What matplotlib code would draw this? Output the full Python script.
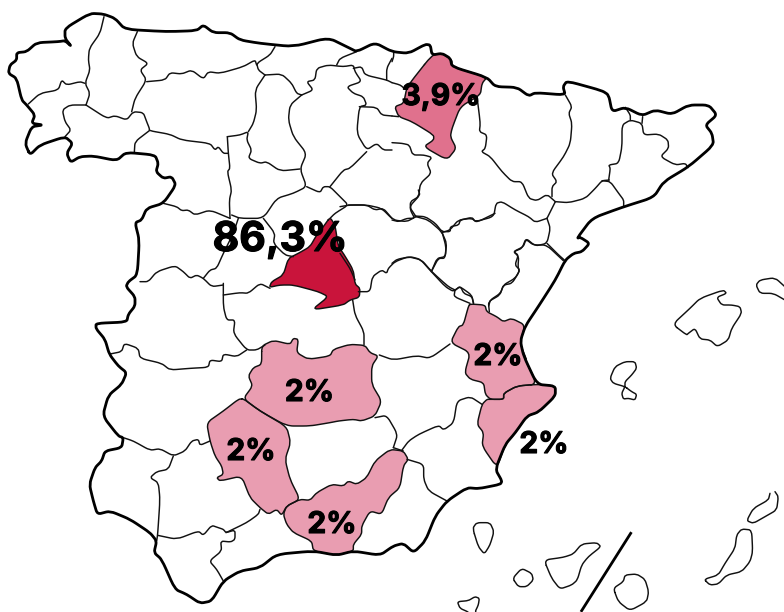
import matplotlib
matplotlib.use("Agg")
import matplotlib.pyplot as plt
import matplotlib.patheffects as pe
from matplotlib.path import Path
from matplotlib.patches import PathPatch

plt.rcParams['font.family'] = ['Inter', 'DejaVu Sans']

# Crop frames the outlines were read in: (left, top); every crop is scaled 3x
F1 = (0, 0); F2 = (392, 0); F3 = (60, 306); F4 = (392, 306)
F5 = (260, 210); F6 = (340, 190); F7 = (600, 265); F8 = (90, 270); F10 = (440, 480)

def P(frame, pts):
    return [(frame[0] + x / 3, frame[1] + y / 3) for x, y in pts]

# ---------- values ----------
labels = ["86,3%", "3,9%", "2%", "2%", "2%", "2%", "2%"]
label_xy = [(280, 240), (441, 97), (309.5, 393), (251, 452), (332, 525), (498, 357), (544, 445)]
label_size = [29.5, 21.5, 21.5, 21.5, 21.5, 21.5, 21.5]

madrid = P(F5, [(210,22),(225,45),(235,110),(250,130),(280,180),(285,222),(300,235),(298,262),(270,270),(250,285),(155,300),(205,260),(175,245),(100,225),(60,225),(28,232),(35,215),(70,195),(85,145),(115,130),(150,110),(170,75),(190,50),(210,22)])
navarra = P(F2, [(120,165),(150,160),(180,180),(180,200),(285,232),(270,250),(265,285),(205,320),(180,385),(175,410),(193,445),(165,480),(95,440),(125,420),(125,405),(60,365),(20,350),(8,320),(35,310),(45,260),(120,165)])
ciudad_real = P(F3, [(605,120),(640,103),(690,115),(700,97),(715,100),(710,140),(745,160),(810,150),(820,130),(870,115),(915,118),(930,140),(955,150),(935,180),(935,235),(965,285),(945,330),(905,345),(880,340),(835,345),(810,350),(750,360),(680,360),(600,315),(550,278),(578,240),(565,210),(580,185),(605,175),(605,120)])
cordoba = P(F3, [(550,278),(600,315),(680,362),(692,410),(675,460),(690,520),(720,580),(680,600),(665,628),(650,610),(625,625),(600,605),(570,575),(545,510),(480,525),(470,515),(490,505),(485,480),(465,450),(450,405),(440,350),(490,315),(535,280),(550,278)])
granada = P(F3, [(720,580),(750,583),(770,560),(815,535),(850,540),(865,525),(890,535),(920,515),(945,465),(990,430),(1030,435),(1045,460),(1030,480),(1020,545),(985,575),(965,625),(930,615),(905,660),(905,685),(880,715),(880,735),(830,748),(760,735),(755,705),(700,680),(680,655),(670,625),(680,600),(720,580)])
valencia = P(F6, [(390,342),(435,345),(440,365),(470,380),(490,395),(515,385),(555,405),(540,460),(560,510)]) + P(F4, [(395,150),(435,235),(375,240),(335,262),(335,280),(295,280),(280,265),(275,230),(235,220),(218,200),(235,140),(175,110)]) + P(F6, [(355,410),(370,405),(385,350),(390,342)])
alicante = P(F4, [(435,235),(490,240),(490,270),(440,318),(405,330),(370,380),(340,415),(315,485),(270,420),(275,380),(255,355),(270,295),(285,280),(295,280),(335,280),(335,262),(375,240),(435,235)])

coast = (
    P(F1, [(90,465),(120,435),(195,410),(218,430),(200,460),(212,487),(240,470),(280,468),(350,482),(378,457),(465,465),(475,490),(468,515),(490,535),(515,530),(528,555),(490,610),(440,625),(425,660),(405,668),(418,720),(412,825),(385,845),(378,860),(405,890)])
    + P(F3, [(225,0),(205,25),(200,48),(108,52),(108,68),(135,100),(148,145),(175,180),(200,200),(185,235),(145,268),(128,330),(175,390),(190,395),(185,425),(135,435),(125,465),(105,485),(88,535),(100,585),(112,625),(150,615),(210,640),(270,680),(290,705),(282,740),(305,760),(345,850),(380,865),(420,892),(455,885),(490,825),(540,795),(600,785),(650,745),(760,735),(830,748),(880,735),(960,748),(1000,720),(1030,712)])
    + P(F4, [(65,740),(100,705),(130,630),(165,585),(225,545),(260,548),(325,535),(330,525),(310,490),(340,415),(370,380),(405,330),(440,318),(490,270),(490,240),(435,235),(395,150),(385,105),(400,60),(440,0)])
    + P(F2, [(490,840),(520,780),(545,760),(570,755),(593,730),(565,712),(555,715),(600,655),(690,622),(785,592),(815,545),(890,500),(965,435),(960,400),(940,375),(975,345),(950,315),(890,315),(840,343),(790,330),(750,347),(700,322),(660,335),(650,285),(630,272),(525,243),(513,260),(520,285),(430,278),(410,288),(375,262),(310,260),(285,232),(180,200),(175,175),(150,160),(120,165),(115,135),(100,133),(50,160),(0,155)])
    + P(F1, [(1125,128),(1070,155),(1050,145),(985,113),(880,140),(780,130),(720,120),(690,98),(640,98),(610,75),(590,92),(500,95),(375,88),(345,55),(310,42),(270,40),(195,85),(195,115),(215,140),(195,122),(175,125),(110,128),(80,155),(50,158),(50,180),(30,195),(25,220),(50,235),(65,300),(80,315),(105,345),(95,370),(130,375),(95,380),(75,430),(90,465)])
)

borders = [
    P(F1, [(312,50),(300,100),(268,145),(265,180),(270,210),(255,250),(270,280),(258,315)]),
    P(F1, [(85,312),(120,280),(175,270),(185,240),(200,255),(240,245),(255,250)]),
    P(F1, [(258,315),(210,315),(187,330),(195,365),(213,390),(195,410)]),
    P(F1, [(258,315),(320,355),(345,347),(380,360),(400,335),(430,338),(440,365),(448,385),(448,392),(510,403),(545,420),(630,430),(645,450),(655,440),(670,460),(685,460)]),
    P(F1, [(412,95),(397,130),(410,170),(445,190),(420,210),(440,240),(405,295),(395,335)]),
    P(F1, [(440,245),(495,240),(510,218),(545,222),(575,210),(610,237),(625,215),(660,220),(730,200),(765,180),(770,195)]),
    P(F1, [(825,140),(810,165),(770,190),(775,210),(795,225)]),
    P(F1, [(795,225),(765,270),(770,330),(760,370),(745,395)]),
    P(F1, [(795,225),(845,222),(875,250),(890,280),(905,285)]),
    P(F1, [(448,392),(405,425),(403,457)]),
    P(F1, [(490,610),(530,620),(545,632),(565,630),(585,645),(630,630),(690,655)]),
    P(F1, [(682,410),(685,460),(690,505),(682,515),(695,570),(688,600),(690,655)]),
    P(F1, [(682,410),(720,405),(745,395),(740,420),(755,450),(745,475),(780,490),(800,485),(840,513),(900,507)]),
    P(F1, [(905,285),(870,315),(865,360),(880,410),(920,460),(900,507),(920,560),(880,580),(830,595),(790,655),(720,655),(695,645)]),
    P(F1, [(920,560),(960,578),(970,560),(990,560),(1020,590),(1045,615),(1005,640),(990,655)]),
    P(F1, [(990,560),(1030,510),(1050,505),(1100,455)]),
    P(F1, [(905,285),(940,270),(920,245),(945,240),(950,205),(985,195),(1030,200),(1060,195),(1065,215),(1085,245),(1040,260),(1060,280),(1090,290),(1100,315),(1078,320),(1070,400),(1100,450),(1130,430),(1150,450),(1176,450)]),
    P(F1, [(1078,320),(1130,322),(1145,345),(1176,348)]),
    P(F1, [(1070,155),(1020,175),(1010,195)]),
    P(F1, [(1060,205),(1085,200),(1095,225),(1160,240),(1176,248)]),
    P(F1, [(1176,175),(1160,205),(1160,240)]),
    P(F1, [(1045,615),(1100,615),(1125,630),(1150,625),(1176,655)]),
    P(F1, [(790,655),(825,700),(820,730),(855,765),(880,770)]),
    P(F1, [(715,655),(700,700),(670,760),(650,805),(630,810),(610,835)]),
    P(F1, [(420,845),(445,845),(470,815),(525,797),(550,815),(570,835),(590,825),(610,835),(635,860),(670,855)]),
    P(F2, [(5,155),(5,170),(0,185)]),
    P(F2, [(0,248),(25,255),(40,268)]),
    P(F2, [(0,348),(20,350)]),
    P(F2, [(0,428),(30,430),(52,435),(62,465),(95,465),(120,472),(105,490),(118,520),(85,550),(80,590),(55,605),(55,630),(68,655),(45,655),(20,665),(0,660)]),
    P(F2, [(68,648),(100,650),(130,670),(150,695),(175,695),(175,680),(200,675),(205,660),(240,652),(250,665),(305,650),(312,610),(330,605),(370,630),(410,650),(430,667),(465,655)]),
    P(F2, [(150,695),(162,740),(160,770),(135,775),(118,815)]),
    P(F2, [(0,790),(15,778),(55,770),(85,778),(118,815),(160,860),(185,875),(205,858),(215,880),(240,890),(245,910)]),
    P(F2, [(465,655),(475,685),(465,730),(430,738),(402,715),(390,745),(365,755),(380,770),(378,800),(382,815),(360,850),(335,855),(325,880),(295,900),(290,918)]),
    P(F2, [(465,655),(490,605)]),
    P(F2, [(465,730),(500,765),(517,780)]),
    P(F2, [(255,290),(265,370),(262,395),(285,405),(280,445),(268,455),(295,470),(330,515),(360,545),(390,545),(410,595),(435,602),(465,583),(490,605)]),
    P(F2, [(520,285),(540,320),(530,340),(540,370),(535,430),(515,470),(478,520),(495,545),(480,560),(480,590)]),
    P(F2, [(490,605),(530,608),(580,595),(610,565),(630,542),(652,540)]),
    P(F2, [(650,540),(655,505),(650,495),(680,490),(690,440),(690,375),(715,360),(750,370),(755,405),(800,402),(828,420),(830,445),(805,470),(850,495),(880,490),(888,503)]),
    P(F2, [(700,322),(715,345),(715,360)]),
    P(F2, [(750,370),(752,350)]),
    P(F2, [(630,542),(655,545),(680,580),(695,600),(695,618)]),
    P(F6, [(0,50),(30,45),(80,45),(125,55),(160,90),(200,95),(228,80)]),
    P(F6, [(228,80),(208,50),(240,15),(235,0)]),
    P(F6, [(228,80),(265,90),(305,125),(320,160),(315,205),(295,205),(275,243)]),
    P(F6, [(305,128),(330,120),(355,90),(395,85),(410,97),(465,70)]),
    P(F6, [(0,190),(30,235),(45,270)]),
    P(F6, [(55,305),(90,305),(97,260),(125,240),(140,250),(145,235),(165,215),(205,200),(245,210),(275,245),(325,290),(345,300)]),
    P(F6, [(345,300),(360,290),(395,315),(400,340)]),
    P(F6, [(345,300),(342,320),(390,340)]),
    P(F6, [(448,365),(445,335),(480,315),(490,285),(525,265),(540,240),(525,225),(535,195),(520,185),(550,170),(558,148),(580,165),(620,165),(670,212)]),
    P(F6, [(38,330),(45,375),(72,425),(72,465)]),
    P(F6, [(118,495),(160,510),(230,497),(270,505),(330,462)]),
    P(F4, [(270,295),(235,272),(195,285),(185,350),(155,372),(140,358),(80,385),(50,405),(30,432)]),
    P(F4, [(45,460),(95,475),(95,520),(110,555),(165,585)]),
    P(F3, [(1000,425),(1013,385),(980,328),(945,335)]),
    P(F3, [(1000,425),(1030,435)]),
    P(F8, [(60,252),(95,245),(103,220),(145,235),(150,265),(215,280),(240,300),(300,295),(355,292),(360,270),(395,275),(400,252),(440,260),(470,240)]),
    P(F8, [(400,40),(400,110),(410,150),(435,150),(430,190),(470,240),(500,240),(525,225)]),
    P(F8, [(400,75),(450,68),(475,70),(510,40),(540,55)]),
    P(F3, [(190,395),(220,405),(270,433),(300,428),(340,450),(375,435),(395,405),(415,400),(420,418),(450,405)]),
    P(F3, [(340,450),(325,490),(290,497),(270,515),(295,530),(300,580),(293,685),(290,705)]),
    P(F3, [(293,688),(350,700),(415,675),(430,688),(455,658),(475,665),(490,670),(498,680),(525,672),(525,700),(512,708),(482,705),(485,735),(448,765),(470,790),(490,825)]),
    P(F3, [(498,680),(560,650),(595,625),(600,610)]),
]

islands = [
    P(F7, [(218,178),(270,130),(300,100),(370,75),(380,85),(350,97),(365,120),(395,120),(420,125),(425,145),(395,190),(385,225),(352,245),(330,225),(300,222),(285,190),(265,205),(260,210),(218,178)]),
    P(F7, [(560,108),(520,85),(480,85),(468,60),(480,45),(525,38),(560,70)]),
    P(F7, [(75,365),(40,355),(30,340),(45,305),(75,290),(105,290),(110,310),(95,330),(75,350),(75,365),(65,385),(70,402),(85,400),(105,405),(110,388),(95,380),(75,365)]),
    P(F10, [(98,145),(110,128),(150,128),(162,155),(150,195),(133,222),(115,200),(98,145)]),
    P(F10, [(218,295),(245,265),(275,280),(280,300),(260,320),(235,320),(218,295)]),
    P(F10, [(118,410),(105,396),(115,375),(118,355),(105,350),(85,362),(52,365),(60,385),(85,396),(95,410)]),
    P(F10, [(312,240),(370,232),(400,222),(425,192),(470,188),(483,200),(445,230),(425,255),(412,300),(395,315),(360,327),(335,295),(312,240)]),
    P(F10, [(520,325),(550,305),(555,285),(590,282),(615,298),(626,335),(620,365),(570,392),(535,365),(520,325)]),
    P(F10, [(792,298),(835,285),(855,250),(885,205),(890,165),(905,147),(935,150),(938,215),(930,245),(905,275),(860,285),(835,312),(810,315),(792,298)]),
    P(F10, [(990,40),(985,60),(940,85),(920,122),(940,130),(975,110),(1010,90),(1015,50),(1005,35)]),
]
canary_slash = P(F10, [(572,160),(425,392)])

fills = [(madrid, '#C9143B'), (navarra, '#E0718D'), (ciudad_real, '#E99DB1'), (cordoba, '#E99DB1'),
         (granada, '#E99DB1'), (valencia, '#E99DB1'), (alicante, '#E99DB1')]

# ---------- drawing ----------
ROUND = 0.3  # share of each segment rounded off at a corner

def along(a, b, t):
    return (a[0] + (b[0] - a[0]) * t, a[1] + (b[1] - a[1]) * t)

def rounded(pts):
    """Path through the read vertices, with only the corners softened."""
    closed = pts[0] == pts[-1]
    if len(pts) < 3:
        return Path(pts)
    if closed:
        ring = pts[:-1]
        n = len(ring)
        triples = [(ring[i - 1], ring[i], ring[(i + 1) % n]) for i in range(n)]
        verts = [along(triples[0][1], triples[0][0], ROUND)]
    else:
        triples = list(zip(pts[:-2], pts[1:-1], pts[2:]))
        verts = [pts[0]]
    codes = [Path.MOVETO]
    for a, b, c in triples:
        verts += [along(b, a, ROUND), b, along(b, c, ROUND)]
        codes += [Path.LINETO, Path.CURVE3, Path.CURVE3]
    verts.append(verts[0] if closed else pts[-1])
    codes.append(Path.LINETO)
    return Path(verts, codes)

fig = plt.figure(figsize=(7.84, 6.12), dpi=100)
ax = fig.add_axes([0, 0, 1, 1])
ax.set_xlim(0, 784)
ax.set_ylim(612, 0)
ax.axis('off')

style = dict(capstyle='round', joinstyle='round', fill=False)
for pts, col in fills:
    ax.add_patch(PathPatch(rounded(pts), facecolor=col, edgecolor='none', zorder=1))
for pts in borders + islands:
    ax.add_patch(PathPatch(rounded(pts), edgecolor='#111111', lw=1.05, zorder=2, **style))
for pts, col in fills:
    ax.add_patch(PathPatch(rounded(pts), edgecolor='#111111', lw=1.05, zorder=2, **style))
ax.add_patch(PathPatch(rounded(coast), edgecolor='black', lw=2.0, zorder=3, **style))
ax.plot(*zip(*canary_slash), color='black', lw=2.0, zorder=3)

for s, (x, y), fs in zip(labels, label_xy, label_size):
    t = ax.text(x, y, s, ha='center', va='center', fontsize=fs, fontweight='bold', color='black', zorder=5)
    t.set_path_effects([pe.withStroke(linewidth=0.8, foreground='black')])

fig.savefig('out.png', dpi=100)
